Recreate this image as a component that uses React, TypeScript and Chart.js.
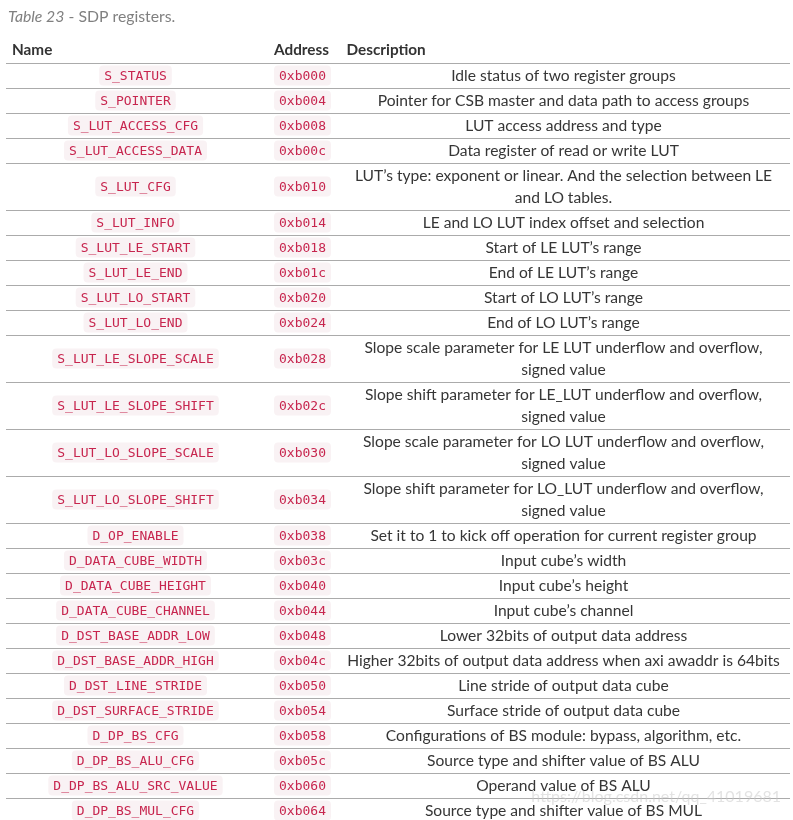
import React, { useEffect, useRef } from "react";
import { Chart, registerables } from "chart.js";

Chart.register(...registerables);

// ---------- data ----------
const captionLabel = "Table 23";
const captionText = " - SDP registers.";
const columnHeaders = ["Name", "Address", "Description"];

const registerNames = [
  "S_STATUS",
  "S_POINTER",
  "S_LUT_ACCESS_CFG",
  "S_LUT_ACCESS_DATA",
  "S_LUT_CFG",
  "S_LUT_INFO",
  "S_LUT_LE_START",
  "S_LUT_LE_END",
  "S_LUT_LO_START",
  "S_LUT_LO_END",
  "S_LUT_LE_SLOPE_SCALE",
  "S_LUT_LE_SLOPE_SHIFT",
  "S_LUT_LO_SLOPE_SCALE",
  "S_LUT_LO_SLOPE_SHIFT",
  "D_OP_ENABLE",
  "D_DATA_CUBE_WIDTH",
  "D_DATA_CUBE_HEIGHT",
  "D_DATA_CUBE_CHANNEL",
  "D_DST_BASE_ADDR_LOW",
  "D_DST_BASE_ADDR_HIGH",
  "D_DST_LINE_STRIDE",
  "D_DST_SURFACE_STRIDE",
  "D_DP_BS_CFG",
  "D_DP_BS_ALU_CFG",
  "D_DP_BS_ALU_SRC_VALUE",
  "D_DP_BS_MUL_CFG",
];

const addresses = [
  "0xb000", "0xb004", "0xb008", "0xb00c", "0xb010", "0xb014", "0xb018",
  "0xb01c", "0xb020", "0xb024", "0xb028", "0xb02c", "0xb030", "0xb034",
  "0xb038", "0xb03c", "0xb040", "0xb044", "0xb048", "0xb04c", "0xb050",
  "0xb054", "0xb058", "0xb05c", "0xb060", "0xb064",
];

const descriptions = [
  "Idle status of two register groups",
  "Pointer for CSB master and data path to access groups",
  "LUT access address and type",
  "Data register of read or write LUT",
  "LUT\u2019s type: exponent or linear. And the selection between LE\nand LO tables.",
  "LE and LO LUT index offset and selection",
  "Start of LE LUT\u2019s range",
  "End of LE LUT\u2019s range",
  "Start of LO LUT\u2019s range",
  "End of LO LUT\u2019s range",
  "Slope scale parameter for LE LUT underflow and overflow,\nsigned value",
  "Slope shift parameter for LE_LUT underflow and overflow,\nsigned value",
  "Slope scale parameter for LO LUT underflow and overflow,\nsigned value",
  "Slope shift parameter for LO_LUT underflow and overflow,\nsigned value",
  "Set it to 1 to kick off operation for current register group",
  "Input cube\u2019s width",
  "Input cube\u2019s height",
  "Input cube\u2019s channel",
  "Lower 32bits of output data address",
  "Higher 32bits of output data address when axi awaddr is 64bits",
  "Line stride of output data cube",
  "Surface stride of output data cube",
  "Configurations of BS module: bypass, algorithm, etc.",
  "Source type and shifter value of BS ALU",
  "Operand value of BS ALU",
  "Source type and shifter value of BS MUL",
];

const watermark = "https://blog.csdn.net/qq_41019681";

// ---------- layout / style ----------
const W = 793;
const H = 820;
const ROW_BASE = 3;
const LINE_H = 22;
const X_MAX = 784;
const colCenters = [129.5, 296.5, 557.5]; // x-scale units
const headerLefts = [6, 268, 340.5]; // x-scale units
const SANS = "Lato, 'Open Sans', sans-serif";
const MONO = "'DejaVu Sans Mono', monospace";

const rowLines = descriptions.map((d) => d.split("\n").length);
const rowBounds: number[] = [0];
rowLines.forEach((n) => rowBounds.push(rowBounds[rowBounds.length - 1] + ROW_BASE + LINE_H * n));

function pill(ctx: CanvasRenderingContext2D, text: string, cx: number, cy: number) {
  ctx.font = `13px ${MONO}`;
  const tw = ctx.measureText(text).width;
  const w = tw + 10;
  const h = 20;
  ctx.fillStyle = "#f9f2f4";
  ctx.beginPath();
  (ctx as any).roundRect(cx - w / 2, cy - h / 2, w, h, 4);
  ctx.fill();
  ctx.fillStyle = "#c7254e";
  ctx.textAlign = "center";
  ctx.textBaseline = "middle";
  ctx.fillText(text, cx, cy + 1);
}

const tablePlugin = {
  id: "tableText",
  afterDraw(chart: any) {
    const { ctx, chartArea } = chart;
    const xs = chart.scales.x;
    const ys = chart.scales.y;
    ctx.save();
    // caption
    ctx.textBaseline = "middle";
    ctx.textAlign = "left";
    ctx.fillStyle = "#808080";
    ctx.font = `italic 15.8px ${SANS}`;
    ctx.fillText(captionLabel, 8, 17);
    const cw = ctx.measureText(captionLabel).width;
    ctx.font = `15.8px ${SANS}`;
    ctx.fillText(captionText, 8 + cw, 17);

    // headers
    ctx.font = `bold 15.3px ${SANS}`;
    ctx.fillStyle = "#333";
    columnHeaders.forEach((h, i) => {
      ctx.fillText(h, xs.getPixelForValue(headerLefts[i]), chartArea.top - 13);
    });

    // rows
    for (let i = 0; i < registerNames.length; i++) {
      const top = ys.getPixelForValue(rowBounds[i]);
      const bot = ys.getPixelForValue(rowBounds[i + 1]);
      const cy = (top + bot) / 2;
      pill(ctx, registerNames[i], xs.getPixelForValue(colCenters[0]), cy);
      pill(ctx, addresses[i], xs.getPixelForValue(colCenters[1]), cy);
      const lines = descriptions[i].split("\n");
      ctx.font = `15.6px ${SANS}`;
      ctx.fillStyle = "#363636";
      ctx.textAlign = "center";
      ctx.textBaseline = "middle";
      lines.forEach((ln, k) => {
        ctx.fillText(ln, xs.getPixelForValue(colCenters[2]), cy + (k - (lines.length - 1) / 2) * LINE_H);
      });
    }

    // watermark
    ctx.font = `16px ${SANS}`;
    ctx.fillStyle = "rgba(200,200,200,0.5)";
    ctx.textAlign = "right";
    ctx.fillText(watermark, 781, 797);
    ctx.restore();
  },
};

export default function App() {
  const ref = useRef<HTMLCanvasElement | null>(null);
  useEffect(() => {
    if (!ref.current) return;
    const chart = new Chart(ref.current, {
      type: "scatter",
      data: { datasets: [{ data: [] }] },
      options: {
        responsive: false,
        animation: false,
        layout: { padding: { top: 63, left: 6, right: 3, bottom: 0 } },
        plugins: { legend: { display: false }, tooltip: { enabled: false } },
        scales: {
          x: { type: "linear", min: 0, max: X_MAX, display: false },
          y: {
            type: "linear",
            reverse: true,
            min: 0,
            max: H - 63,
            afterBuildTicks: (s: any) => {
              s.ticks = rowBounds.filter((v) => v <= H - 63).map((v) => ({ value: v }));
            },
            ticks: { display: false },
            grid: { color: "#ababab", lineWidth: 1, drawTicks: false },
            border: { display: false },
          },
        },
      } as any,
      plugins: [tablePlugin],
    });
    return () => chart.destroy();
  }, []);
  return (
    <div style={{ position: "absolute", left: 0, top: 0, width: W, height: H, background: "#fff" }}>
      <canvas ref={ref} width={W} height={H} style={{ display: "block" }} />
    </div>
  );
}
